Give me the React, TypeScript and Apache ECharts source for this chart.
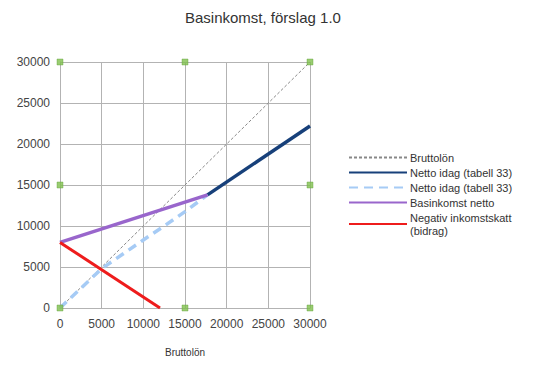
import React, { useEffect, useRef } from "react";
import * as echarts from "echarts";

const title = "Basinkomst, förslag 1.0";
const xName = "Bruttolön";
const ticks = [0, 5000, 10000, 15000, 20000, 25000, 30000];

const bruttolon: [number, number][] = [[0, 0], [30000, 30000]];
const nettoIdag: [number, number][] = [[17700, 13800], [30000, 22200]];
const nettoIdagDashed: [number, number][] = [
  [0, 0], [5000, 4800], [10000, 8300], [12500, 10000], [15000, 11750], [17700, 13800],
];
const basinkomst: [number, number][] = [[0, 8000], [17700, 13800]];
const negativSkatt: [number, number][] = [[0, 8000], [12000, 0]];
const handles: [number, number][] = [
  [0, 0], [15000, 0], [30000, 0], [0, 15000], [30000, 15000], [0, 30000], [15000, 30000], [30000, 30000],
];

const names = {
  brutto: "Bruttolön",
  netto: "Netto idag (tabell 33)",
  netto2: "Netto idag (tabell 33) ",
  bas: "Basinkomst netto",
  neg: "Negativ inkomstskatt (bidrag)",
};

export default function App() {
  const ref = useRef<HTMLDivElement>(null);
  useEffect(() => {
    const chart = echarts.init(ref.current!, null, { renderer: "svg" });
    const font = "Liberation Sans, Arial, sans-serif";
    chart.setOption({
      animation: false,
      textStyle: { fontFamily: font },
      title: {
        text: title,
        left: 180,
        top: 5,
        textStyle: { fontSize: 15, fontWeight: "normal", color: "#333", fontFamily: font },
      },
      grid: { left: 60, right: 230, top: 62, bottom: 57 },
      legend: {
        left: 343,
        top: 146,
        orient: "vertical",
        itemWidth: 58,
        itemHeight: 10,
        itemGap: 2,
        itemStyle: { opacity: 0 },
        data: [names.brutto, names.netto, names.netto2, names.bas, names.neg],
        formatter: (n: string) =>
          n === names.neg ? "Negativ inkomstskatt\n(bidrag)" : n.trim(),
        textStyle: { fontSize: 11, color: "#333", lineHeight: 13, padding: [0, 0, 0, -2], fontFamily: font },
      },
      xAxis: {
        type: "value",
        min: 0,
        max: 30000,
        interval: 5000,
        name: xName,
        nameLocation: "middle",
        nameGap: 39,
        nameTextStyle: { fontSize: 10, color: "#333" },
        axisLine: { show: true, lineStyle: { color: "#b3b3b3" } },
        axisTick: { show: false },
        axisLabel: { fontSize: 12, color: "#444", margin: 10, formatter: (v: number) => String(v) },
        splitLine: { show: true, lineStyle: { color: "#b3b3b3" } },
      },
      yAxis: {
        type: "value",
        min: 0,
        max: 30000,
        interval: 5000,
        axisLine: { show: true, lineStyle: { color: "#b3b3b3" } },
        axisTick: { show: false },
        axisLabel: { fontSize: 12, color: "#444", margin: 10, formatter: (v: number) => String(v) },
        splitLine: { show: true, lineStyle: { color: "#b3b3b3" } },
      },
      series: [
        {
          name: names.brutto,
          type: "line",
          data: bruttolon,
          symbol: "none",
          lineStyle: { color: "#888", width: 1, type: [3, 2] },
          itemStyle: { color: "#888" },
        },
        {
          name: names.netto,
          type: "line",
          data: nettoIdag,
          symbol: "none",
          lineStyle: { color: "#17407a", width: 3.5 },
          itemStyle: { color: "#17407a" },
        },
        {
          name: names.netto2,
          type: "line",
          data: nettoIdagDashed,
          symbol: "none",
          lineStyle: { color: "#a6cbf5", width: 3.5, type: [9, 6] },
          itemStyle: { color: "#a6cbf5" },
        },
        {
          name: names.bas,
          type: "line",
          data: basinkomst,
          symbol: "none",
          lineStyle: { color: "#9966cc", width: 3.5 },
          itemStyle: { color: "#9966cc" },
        },
        {
          name: names.neg,
          type: "line",
          data: negativSkatt,
          symbol: "none",
          lineStyle: { color: "#ee1c1c", width: 3 },
          itemStyle: { color: "#ee1c1c" },
        },
        {
          name: "handles",
          type: "scatter",
          data: handles,
          symbol: "rect",
          symbolSize: 6,
          itemStyle: { color: "#7fbf4d", borderColor: "#5f9f3a", borderWidth: 0.5 },
          z: 10,
        },
      ],
    });
    return () => chart.dispose();
  }, []);
  return (
    <div
      ref={ref}
      style={{ position: "fixed", left: 0, top: 0, width: 540, height: 365, background: "#fff" }}
    />
  );
}
